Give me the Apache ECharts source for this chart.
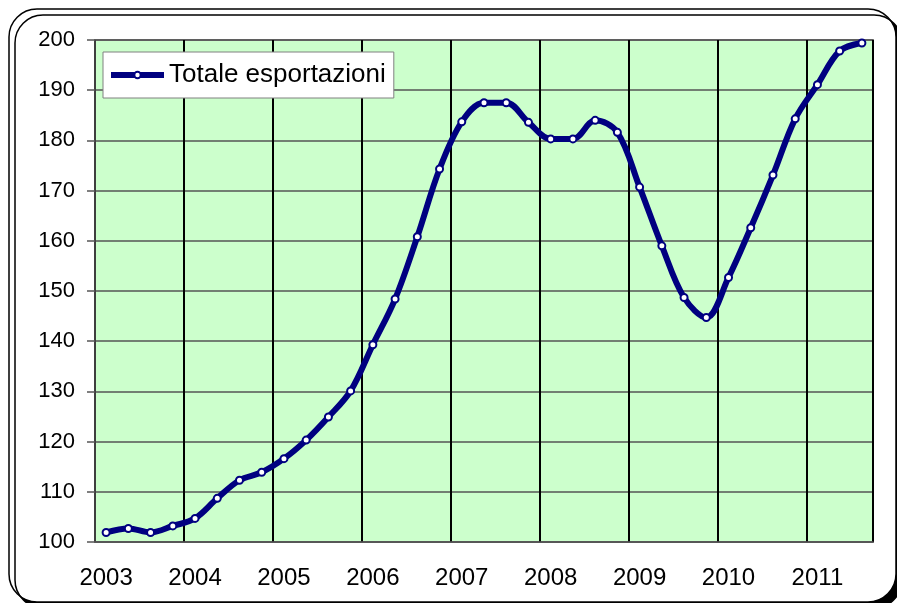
<!DOCTYPE html>
<html>
<head>
<meta charset="utf-8">
<script src="https://cdn.jsdelivr.net/npm/echarts@6/dist/echarts.min.js"></script>
<style>
  html, body { margin: 0; padding: 0; background: #fff; }
  #chart { width: 897px; height: 603px; }
</style>
</head>
<body>
<div id="chart"></div>
<script>
// trimestri 2003 Q1 - 2011 Q3
var years = ['2003', '2004', '2005', '2006', '2007', '2008', '2009', '2010', '2011'];
var quarters = [];
years.forEach(function (y) {
  for (var q = 1; q <= 4; q++) quarters.push(y + ' T' + q);
});
quarters = quarters.slice(0, 35);

var esportazioni = [
  101.9, 102.7, 101.9, 103.2,
  104.7, 108.7, 112.3, 113.9,
  116.6, 120.3, 124.9, 130.1,
  139.3, 148.4, 160.8, 174.3,
  183.7, 187.5, 187.5, 183.6,
  180.3, 180.3, 184.0, 181.6,
  170.7, 159.0, 148.7, 144.7,
  152.7, 162.6, 173.1, 184.3,
  191.1, 197.8, 199.4
];

var yTicks = { min: 100, max: 200, interval: 10 };

var font = 'Arial, "Liberation Sans", sans-serif';
var chart = echarts.init(document.getElementById('chart'));

chart.setOption({
  animation: false,
  backgroundColor: '#fff',
  textStyle: { fontFamily: font },
  graphic: [{
    type: 'rect', z: -10, silent: true,
    shape: { x: 9, y: 9, width: 887, height: 593, r: 28 },
    style: {
      fill: '#fff', stroke: '#000', lineWidth: 1.5,
      shadowColor: '#000', shadowOffsetX: 6, shadowOffsetY: 6, shadowBlur: 0
    }
  }],
  grid: {
    left: 95, top: 40, right: 24, bottom: 61,
    show: true, backgroundColor: '#CCFFCC',
    borderColor: '#808080', borderWidth: 2
  },
  legend: {
    left: 103, top: 52,
    padding: [10, 8, 10, 5],
    backgroundColor: '#fff',
    borderColor: '#808080', borderWidth: 1,
    itemWidth: 53, itemHeight: 8,
    lineStyle: { width: 6 },
    textStyle: { fontSize: 26, color: '#000', fontFamily: font },
    data: ['Totale esportazioni']
  },
  xAxis: {
    type: 'category',
    data: quarters,
    boundaryGap: true,
    axisLine: { lineStyle: { color: '#555', width: 1.5 } },
    axisTick: { interval: 3, length: 8, lineStyle: { color: '#555', width: 1.5 } },
    axisLabel: {
      interval: 3, margin: 24, fontSize: 24, color: '#000', fontFamily: font,
      formatter: function (v) { return v.slice(0, 4); }
    },
    splitLine: { show: true, interval: 3, lineStyle: { color: '#000', width: 2 } }
  },
  yAxis: {
    type: 'value',
    min: yTicks.min, max: yTicks.max, interval: yTicks.interval,
    axisLine: { show: true, lineStyle: { color: '#555', width: 1.5 } },
    axisTick: { show: true, length: 8, lineStyle: { color: '#555', width: 1.5 } },
    axisLabel: { margin: 20, fontSize: 22, color: '#000', fontFamily: font },
    splitLine: { show: true, lineStyle: { color: '#555', width: 1.5 } }
  },
  series: [{
    name: 'Totale esportazioni',
    type: 'line',
    data: esportazioni,
    smooth: 0.35,
    symbol: 'circle',
    symbolSize: 7,
    lineStyle: { color: '#000080', width: 6 },
    itemStyle: { color: '#fff', borderColor: '#000080', borderWidth: 2 },
    z: 5
  }]
});
</script>
</body>
</html>
